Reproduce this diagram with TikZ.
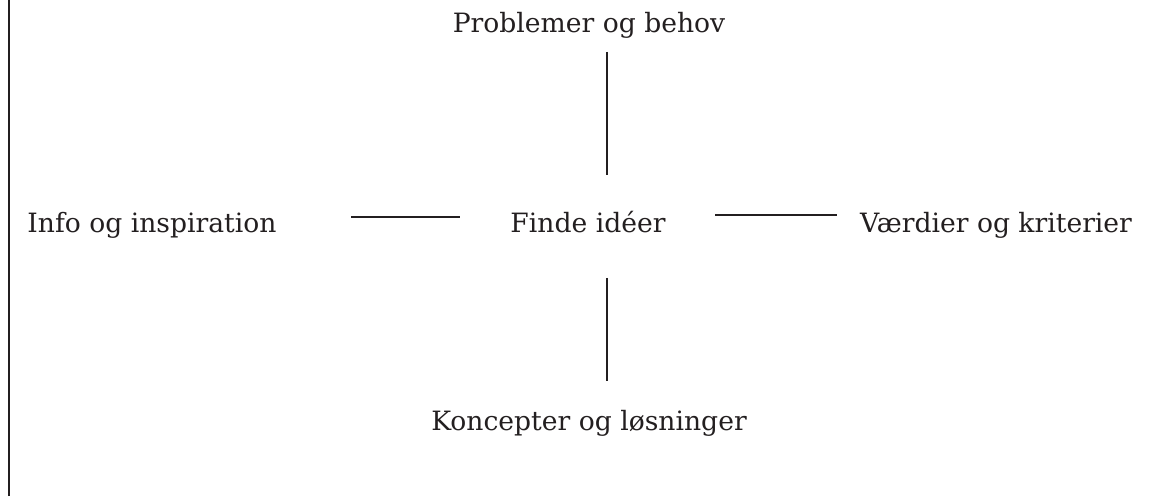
\documentclass[tikz,border=0pt]{standalone}
\usepackage{fontspec}
\setmainfont{DejaVu Serif}
\definecolor{ink}{HTML}{231F20}
\begin{document}
\begin{tikzpicture}[x=1pt,y=1pt,
  lbl/.style={anchor=base,inner sep=0pt,text=ink,font=\fontsize{26.6}{32}\selectfont},
  conn/.style={draw=ink,line width=1.3pt}]
\useasboundingbox (0,0) rectangle (1162,496);
\node[lbl] (top) at (589,463) {Problemer og behov};
\node[lbl] (left) at (152,263) {Info og inspiration};
\node[lbl] (mid) at (588,263) {Finde idéer};
\node[lbl] (right) at (996,263) {Værdier og kriterier};
\node[lbl] (bot) at (589,66) {Koncepter og løsninger};
\coordinate (t1) at (607,444);
\coordinate (t2) at (607,321);
\coordinate (b1) at (607,218);
\coordinate (b2) at (607,115);
\coordinate (l1) at (351,279);
\coordinate (l2) at (460,279);
\coordinate (r1) at (715,281);
\coordinate (r2) at (837,281);
\coordinate (e1) at (9,0);
\coordinate (e2) at (9,496);
\draw[conn] (t1) -- (t2);
\draw[conn] (b1) -- (b2);
\draw[conn] (l1) -- (l2);
\draw[conn] (r1) -- (r2);
\draw[conn,line width=1.5pt] (e1) -- (e2);
\end{tikzpicture}
\end{document}
